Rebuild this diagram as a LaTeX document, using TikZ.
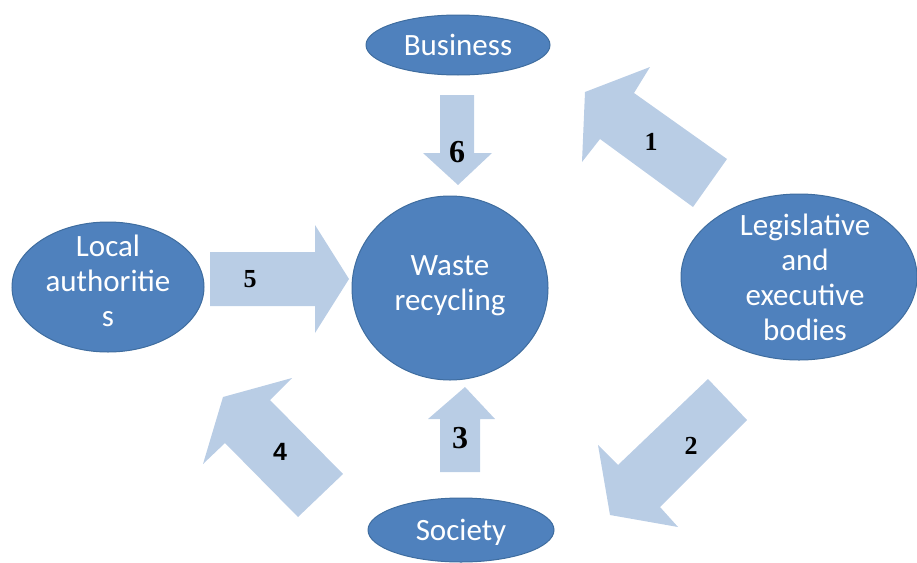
\documentclass[tikz,border=0pt]{standalone}
\usepackage{fontspec}
\setmainfont{Carlito}
\newfontfamily\numserif{Liberation Serif}
\newfontfamily\numsans{Liberation Sans}
\definecolor{ellfill}{HTML}{4F81BD}
\definecolor{elldraw}{HTML}{3F6D9F}
\definecolor{arrfill}{HTML}{B9CDE5}
\begin{document}
\begin{tikzpicture}[x=1pt,y=-1pt,
  elltext/.style={text=white,align=center,font=\fontsize{31}{35}\selectfont},
  blockarrow/.style={fill=arrfill,draw=none},
  numlab/.style={font=\numserif\bfseries\fontsize{26}{26}\selectfont},
  numlabbig/.style={font=\numserif\bfseries\fontsize{32}{32}\selectfont},
]
\useasboundingbox (0,0) rectangle (917,562);
\begin{scope}
\clip (0,0) rectangle (917,562);
% ellipses
\fill[ellfill,draw=elldraw,line width=1pt] (458,45) ellipse [x radius=92,y radius=30];
\fill[ellfill,draw=elldraw,line width=1pt] (450,288) ellipse [x radius=98,y radius=92];
\fill[ellfill,draw=elldraw,line width=1pt] (799,277) ellipse [x radius=118,y radius=83];
\fill[ellfill,draw=elldraw,line width=1pt] (108,287) ellipse [x radius=96,y radius=65];
\fill[ellfill,draw=elldraw,line width=1pt] (461,530) ellipse [x radius=93,y radius=32];
% block arrows
\fill[blockarrow] (440,95) -- (474,95) -- (474,153) -- (492,153) -- (458,185) -- (423,153) -- (440,153) -- cycle;
\fill[blockarrow] (465,387) -- (495,419) -- (480,419) -- (480,472) -- (440,472) -- (440,419) -- (428,419) -- cycle;
\fill[blockarrow] (210,252) -- (315,252) -- (315,225) -- (349,279) -- (315,333) -- (315,306) -- (210,306) -- cycle;
\fill[blockarrow] (585,92) -- (650,67) -- (634,93) -- (727,159) -- (693,207) -- (600,139) -- (582,162) -- cycle;
\fill[blockarrow] (708,379) -- (747,420) -- (660,507) -- (678,527) -- (610,515) -- (598,445) -- (618,465) -- cycle;
\fill[blockarrow] (223,397) -- (292,378) -- (270,400) -- (343,474) -- (298,517) -- (225,443) -- (203,464) -- cycle;
\end{scope}
% texts
\node[elltext] (business) at (458,45) {Business};
\node[elltext] (waste) at (450,286) {Waste\\recycling};
\node[elltext] (legis) at (805,277) {Legislative\\and\\executive\\bodies};
\node[elltext] (local) at (108,281) {Local\\authoritie\\s};
\node[elltext] (society) at (461,532) {Society};
% numbers
\node[numlab] (n1) at (651,142) {1};
\node[numlab] (n2) at (691,446) {2};
\node[numlabbig] (n3) at (460,438) {3};
\node[font=\numsans\bfseries\fontsize{25}{25}\selectfont] (n4) at (280,452) {4};
\node[numlab] (n5) at (250,279) {5};
\node[numlabbig] (n6) at (457,152) {6};
\end{tikzpicture}
\end{document}
